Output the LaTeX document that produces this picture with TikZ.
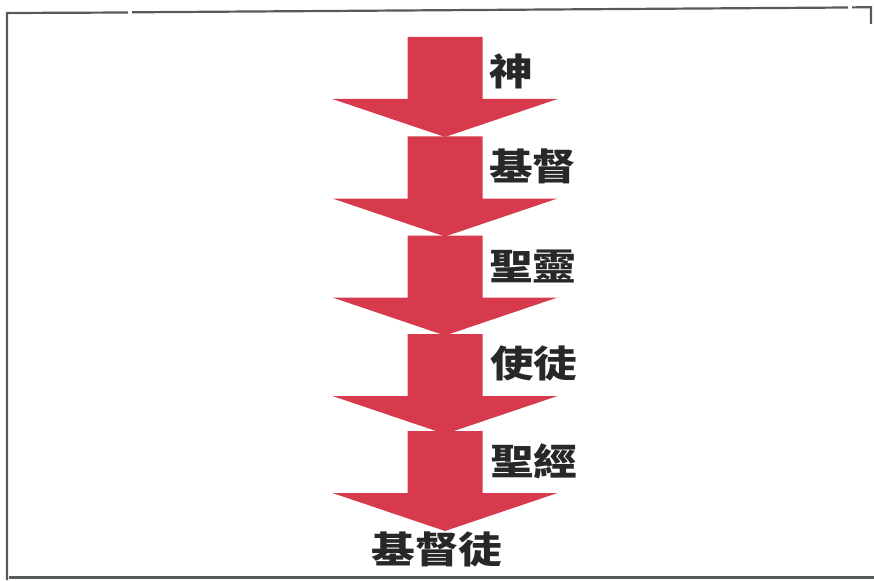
\documentclass[tikz,border=0pt]{standalone}
\usepackage{fontspec}
\newfontfamily\cjk{Noto Sans CJK TC}
\definecolor{arrowred}{RGB}{214,58,76}
\definecolor{framegray}{RGB}{85,92,85}
\definecolor{textdark}{RGB}{40,40,40}
\begin{document}
\begin{tikzpicture}[x=1pt,y=-1pt,
  frame/.style={draw=framegray,line width=2.2pt},
  lbl/.style={anchor=west,inner sep=0pt,text=textdark,font=\cjk\bfseries\fontsize{37}{37}\selectfont},
  downarrow/.pic={\fill[arrowred] (-37.5,0) -- (37.5,0) -- (37.5,62) -- (112.5,62) -- (0,100) -- (-112.5,62) -- (-37.5,62) -- cycle;}
]
\useasboundingbox (0,0) rectangle (874,580);
% frame
\draw[frame] (7,580) -- (7,13) -- (128,12.5);
\draw[frame] (132,12.3) -- (848,7.5);
\draw[frame] (852,7.4) -- (871,7.2) -- (871,24);
\draw[frame] (9,577.5) -- (874,577.5);
% arrows
\foreach \i/\t in {0/37,1/136.5,2/235.5,3/334,4/431}{
  \pic at (445,\t) {downarrow};
}
% labels
\node[lbl] (l1) at (489,71) {\scalebox{1.18}[1]{神}};
\node[lbl] (l2) at (489,166) {\scalebox{1.18}[1]{基督}};
\node[lbl] (l3) at (489,266) {\scalebox{1.18}[1]{聖靈}};
\node[lbl] (l4) at (490,363) {\scalebox{1.18}[1]{使徒}};
\node[lbl] (l5) at (490,461) {\scalebox{1.18}[1]{聖經}};
\node[lbl,anchor=center] (l6) at (437,549) {\scalebox{1.18}[1]{基督徒}};
\end{tikzpicture}
\end{document}
